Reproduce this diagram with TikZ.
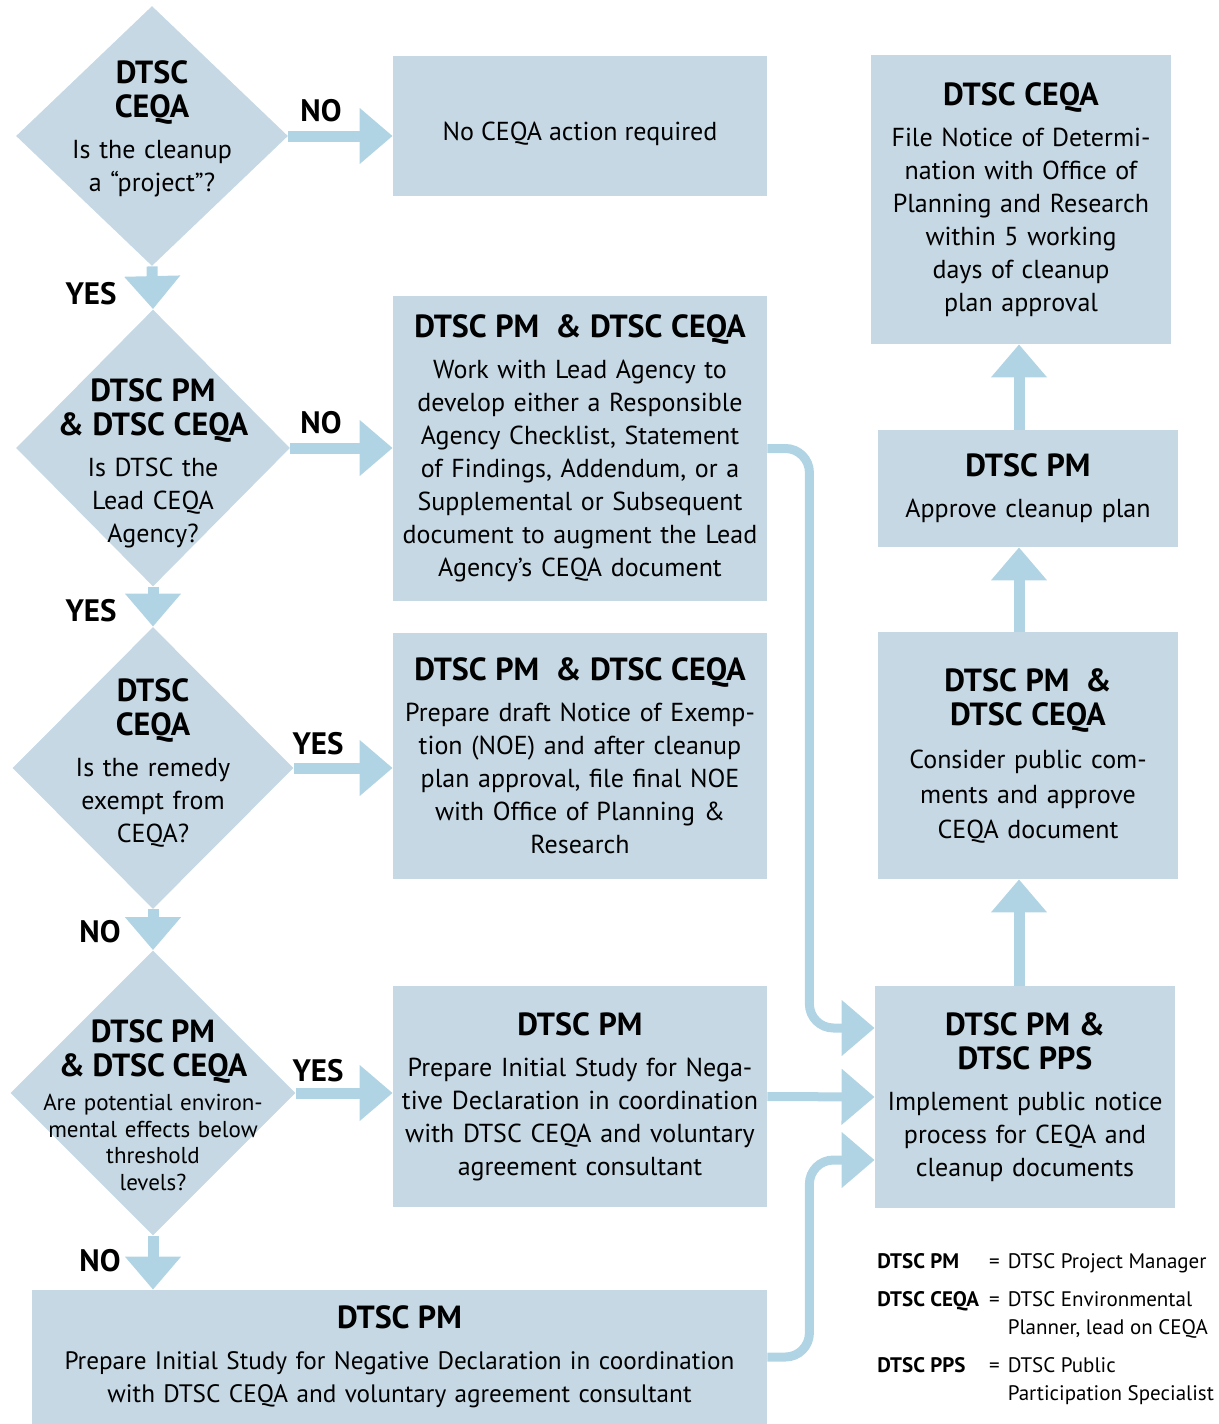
\documentclass[tikz,border=0pt]{standalone}
\usepackage{fontspec}
\setmainfont{PT Sans}
\usetikzlibrary{arrows.meta, positioning, shapes.geometric}

\definecolor{boxblue}{RGB}{197,216,228}
\definecolor{flowblue}{RGB}{176,212,228}
\newcommand{\bodyfont}{\fontsize{13}{16.5}\selectfont}
\newcommand{\smallbody}{\fontsize{11.5}{13.3}\selectfont}
\newcommand{\titlefont}{\fontsize{16}{17}\selectfont\bfseries}
\newcommand{\answerfont}{\fontsize{15.5}{17}\selectfont\bfseries}
\newcommand{\keyfont}{\fontsize{10.5}{14}\selectfont}
\newcommand{\hd}[1]{{\titlefont #1\par}\vspace{4pt}}

\begin{document}
\begin{tikzpicture}[x=0.5pt, y=-0.5pt,
    box/.style = {fill=boxblue, inner sep=0pt, align=center, font=\bodyfont},
 midbox/.style = {box, text width=187pt},
sidebox/.style = {box, text width=150pt},
decision/.style = {diamond, fill=boxblue, inner sep=0pt},
  query/.style = {align=center, text width=150pt, inner sep=0pt, font=\bodyfont},
 answer/.style = {font=\answerfont},
   flow/.style = {draw=flowblue, line width=5.5pt, -{Triangle[width=27pt,length=16.5pt]}},
   link/.style = {flow, line width=4.5pt, rounded corners=12pt},
                    ]
\useasboundingbox (0,0) rectangle (1219,1424);
% questions
\node[decision, minimum width=136pt, minimum height=130pt] (d1) at (152,136) {};
\node[decision, minimum width=137pt, minimum height=138.5pt] (d2) at (153,448) {};
\node[decision, minimum width=140.5pt, minimum height=141pt] (d3) at (153,768) {};
\node[decision, minimum width=142.5pt, minimum height=142.5pt] (d4) at (153,1093) {};
\node[query] (q1) at (152,129) {\hd{DTSC\\CEQA}Is the cleanup\\ a “project”?};
\node[query] (q2) at (153,463) {\hd{DTSC PM\\\& DTSC CEQA}Is DTSC the\\ Lead CEQA\\ Agency?};
\node[query] (q3) at (153,763) {\hd{DTSC\\CEQA}Is the remedy\\ exempt from\\ CEQA?};
\node[query, font=\smallbody] (q4) at (153,1105) {\hd{DTSC PM\\\& DTSC CEQA}Are potential environ-\\ mental effects below\\ threshold\\ levels?};
% actions
\node[midbox, minimum height=70pt, label={[font=\bodyfont, yshift=-4pt]center:No CEQA action required}] (b1) at (580,126) {};
\node[midbox, minimum height=152.5pt] (b2) at (580,448.5) {\hd{DTSC PM\enspace\& DTSC CEQA}Work with Lead Agency to\\ develop either a Responsible\\ Agency Checklist, Statement\\ of Findings, Addendum, or a\\ Supplemental or Subsequent\\ document to augment the Lead\\ Agency’s CEQA document};
\node[midbox, minimum height=123pt] (b3) at (580,756) {\hd{DTSC PM\enspace\& DTSC CEQA}Prepare draft Notice of Exemp-\\ tion (NOE) and after cleanup\\ plan approval, file final NOE\\ with Office of Planning \&\\ Research};
\node[midbox, minimum height=110.5pt] (b4) at (580,1096.5) {\hd{DTSC PM}Prepare Initial Study for Nega-\\ tive Declaration in coordination\\ with DTSC CEQA and voluntary\\ agreement consultant};
\node[box, text width=367.5pt, minimum height=67pt, font=\fontsize{12.6}{16.5}\selectfont] (b5) at (399.5,1357) {\hd{DTSC PM}Prepare Initial Study for Negative Declaration in coordination\\ with DTSC CEQA and voluntary agreement consultant};
\node[sidebox, minimum height=144.5pt] (r1) at (1021,199.5) {\hd{DTSC CEQA}File Notice of Determi-\\ nation with Office of\\ Planning and Research\\ within 5 working\\ days of cleanup\\ plan approval};
\node[sidebox, minimum height=58.5pt] (r2) at (1028,488.5) {\hd{DTSC PM}Approve cleanup plan};
\node[sidebox, minimum height=123.5pt, font=\fontsize{13}{17.5}\selectfont] (r3) at (1028,755.5) {\hd{DTSC PM\enspace\&\\DTSC CEQA}Consider public com-\\ ments and approve\\ CEQA document};
\node[sidebox, minimum height=111pt] (r4) at (1025,1097) {\hd{DTSC PM \&\\DTSC PPS}Implement public notice\\ process for CEQA and\\ cleanup documents};
\coordinate (ax) at (1019,0);
% answers
\node[answer] (n1) at (321,111) {NO};
\node[answer] (y1) at (91,294) {YES};
\node[answer] (n2) at (321,423) {NO};
\node[answer] (y2) at (91,611) {YES};
\node[answer] (y3) at (318,744) {YES};
\node[answer] (n3) at (100,932) {NO};
\node[answer] (y4) at (318,1071) {YES};
\node[answer] (n4) at (100,1261) {NO};
%
\draw[flow] (d1.south) -- (d2.north);
\draw[flow] (d2.south) -- (d3.north);
\draw[flow] (d3.south) -- (d4.north);
\draw[flow] (d4.south) -- (d4.south |- b5.north);
\draw[flow] (d1.east) -- (d1.east -| b1.west);
\draw[flow] (d2.east) -- (d2.east -| b2.west);
\draw[flow] (d3.east) -- (d3.east -| b3.west);
\draw[flow] (d4.east) -- (d4.east -| b4.west);
%
\draw[link] (b2.east) -- ++(21pt,0) |- ([yshift=34.5pt] r4.west);
\draw[link] (b4.east) -- (r4.west);
\draw[link] (b5.east) -- ++(21pt,0) |- ([yshift=-31.5pt] r4.west);
%
\draw[flow] (r4.north -| ax) -- (r3.south -| ax);
\draw[flow] (r3.north -| ax) -- (r2.south -| ax);
\draw[flow] (r2.north -| ax) -- (r1.south -| ax);
% key
\node[anchor=north west, inner sep=0pt, font=\keyfont] (key) at (877,1248) {%
\begin{tabular}{@{}l@{\hspace{5pt}}l@{\hspace{4pt}}l@{}}
\textbf{DTSC PM}   & = & DTSC Project Manager\\[5pt]
\textbf{DTSC CEQA} & = & DTSC Environmental\\
                   &   & Planner, lead on CEQA\\[5pt]
\textbf{DTSC PPS}  & = & DTSC Public\\
                   &   & Participation Specialist
\end{tabular}};
\end{tikzpicture}
\end{document}
